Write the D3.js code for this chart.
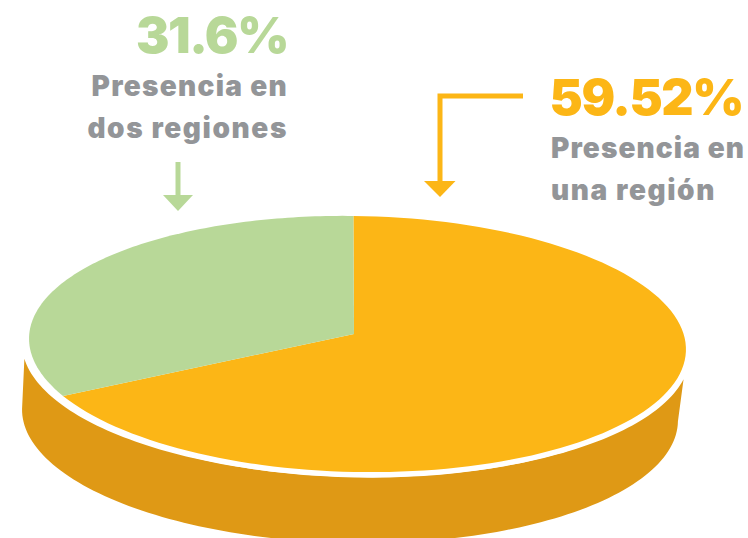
<!DOCTYPE html>
<html><head><meta charset="utf-8">
<script src="https://cdn.jsdelivr.net/npm/d3@7"></script>
<style>html,body{margin:0;padding:0;background:#fff}svg{display:block}</style></head>
<body><svg id="c" width="748" height="538"></svg>
<script>
// Data
const categories = ["Presencia en una región", "Presencia en dos regiones"];
const labelValues = ["59.52%", "31.6%"];
const labelLines = [["Presencia en", "una región"], ["Presencia en", "dos regiones"]];
const sliceShares = [67.9, 32.1];   // drawn proportion of the disc
const colors = ["#fcb616", "#b8d898"];
const sideColor = "#df9915", grey = "#939598";

const svg = d3.select("#c");
const W = { cx: 357.5, cy: 344, rx: 328.5, ry: 128, tilt: 1.1 };
const rad = W.tilt * Math.PI / 180;
const ell = (o, a) => {
  const x = o.rx * Math.sin(a), y = -o.ry * Math.cos(a);
  return [o.cx + x * Math.cos(rad) - y * Math.sin(rad), o.cy + x * Math.sin(rad) + y * Math.cos(rad)];
};
const line = d3.line();
const sweep = (o, a0, a1) => d3.range(0, 121).map(i => ell(o, a0 + (a1 - a0) * i / 120));

// side wall
const lower = { cx: 350, cy: 415, rx: 328, ry: 128 };
const upper = { cx: 356, cy: 349, rx: 334, ry: 128 };
const wall = sweep(lower, Math.PI * 0.5, Math.PI * 1.5).concat(sweep(upper, Math.PI * 1.46, Math.PI * 0.56));
svg.append("path").attr("d", line(wall) + "Z").attr("fill", sideColor);

// white rim under the top
const rim = { cx: 357.5, cy: 347, rx: 329.5, ry: 130.5 };
svg.append("path").attr("d", line(sweep(rim, 0, Math.PI * 2)) + "Z").attr("fill", "#fff");

// top face
const vertex = [354, 334];
const start = -0.02;
const pie = d3.pie().sort(null).value(d => d).startAngle(start).endAngle(start + Math.PI * 2);
pie(sliceShares).forEach((s, i) => {
  const pts = sweep(W, s.startAngle, s.endAngle);
  svg.append("path").attr("d", line([vertex, ...pts]) + "Z").attr("fill", colors[i]);
});

// labels
const font = "Inter, 'Open Sans', sans-serif";
const labels = [
  { x: 549.5, anchor: "start", y: [115, 158, 200], ls: [1.1, 1.6] },
  { x: 288, anchor: "end", y: [53, 96, 138], ls: [1.3, 1.6] }
];
labels.forEach((l, i) => {
  svg.append("text").attr("x", l.x).attr("y", l.y[0]).attr("text-anchor", l.anchor)
    .attr("font-family", font).attr("font-weight", 900).attr("font-size", 50).attr("letter-spacing", -1.4)
    .attr("fill", colors[i]).text(labelValues[i]);
  labelLines[i].forEach((t, j) => svg.append("text").attr("x", i ? l.x : 551).attr("y", l.y[j + 1])
    .attr("text-anchor", l.anchor).attr("font-family", font).attr("font-weight", 900)
    .attr("font-size", 28).attr("letter-spacing", l.ls[j]).attr("fill", grey).text(t));
});

// arrows
const arrows = [
  { pts: [[523, 96], [440, 96], [440, 184]], head: [[424, 181], [455.5, 181], [440, 197]] },
  { pts: [[178, 162], [178, 198]], head: [[163, 195], [193, 195], [178, 211]] }
];
arrows.forEach((a, i) => {
  svg.append("path").attr("d", line(a.pts)).attr("fill", "none").attr("stroke", colors[i]).attr("stroke-width", 5);
  svg.append("path").attr("d", line(a.head) + "Z").attr("fill", colors[i]);
});
</script></body></html>
